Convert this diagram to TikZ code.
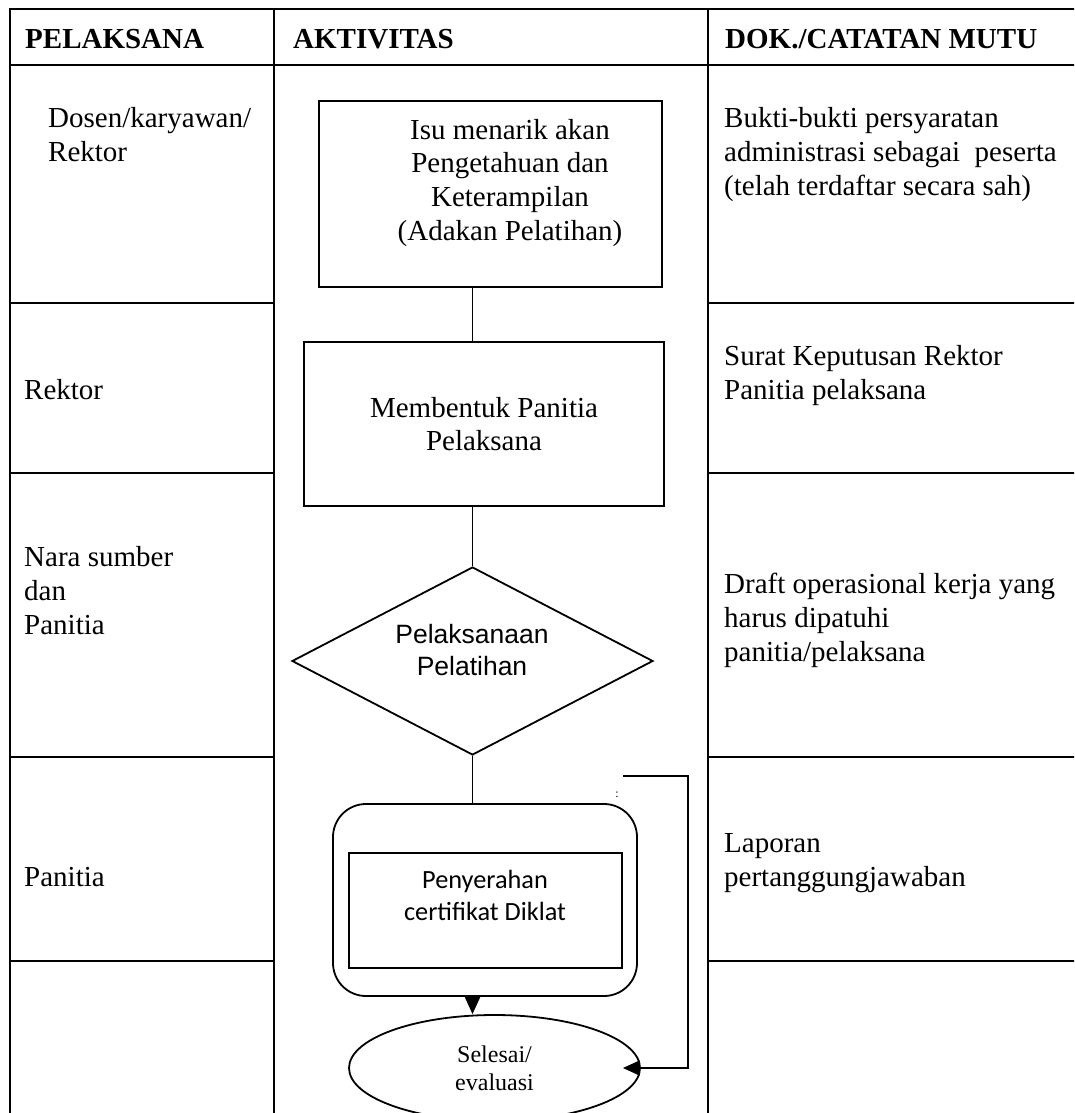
\documentclass[tikz,border=0pt]{standalone}
\usepackage{fontspec}
\setmainfont{Liberation Serif}
\newfontfamily\arialfont{Liberation Sans}
\newfontfamily\calibrifont{Carlito}
\usetikzlibrary{shapes.geometric,arrows.meta,positioning}

\tikzset{
  tabline/.style={line width=2.8pt, line cap=rect},
  link/.style={line width=1.8pt},
  linkarrow/.style={link, -{Triangle[length=17pt,width=15pt]}},
  boxnode/.style={draw, line width=1.8pt, rectangle, inner sep=0pt},
  headtext/.style={anchor=base west, inner sep=0pt, font=\fontsize{29}{33.6}\selectfont\bfseries},
  celltext/.style={anchor=base west, align=left, inner sep=0pt, font=\fontsize{29}{33.6}\selectfont},
  flowtext/.style={anchor=base, align=center, inner sep=0pt, font=\fontsize{29}{33.6}\selectfont},
  arialtext/.style={anchor=base, align=center, inner sep=0pt, font=\arialfont\fontsize{26.5}{32}\selectfont},
  calibtext/.style={anchor=base, align=center, inner sep=0pt, font=\calibrifont\fontsize{26.3}{32}\selectfont}
}

\begin{document}
\begin{tikzpicture}[x=1pt,y=-1pt]
  % page the same size as the table scan
  \useasboundingbox (0,0) rectangle (1074,1113);
  \clip (0,0) rectangle (1074,1113);

  % Draw the table grid
  \draw[tabline] (10,9) -- (1074,9);
  \draw[tabline] (10,65) -- (1074,65);
  \foreach \x in {10,274,708} {
    \draw[tabline] (\x,9) -- (\x,1113);
  }
  \foreach \y in {303,473,757,961} {
    \draw[tabline] (10,\y) -- (274,\y);
    \draw[tabline] (708,\y) -- (1074,\y);
  }

  % Column headings
  \node[headtext] (hpel) at (25,49) {PELAKSANA};
  \node[headtext] (hakt) at (293,49) {AKTIVITAS};
  \node[headtext] (hdok) at (725,49) {DOK./CATATAN MUTU};

  % Pelaksana column (base = last line of each cell)
  \node[celltext] (pel1) at (48,161) {Dosen/karyawan/\\Rektor};
  \node[celltext] (pel2) at (24,399) {Rektor};
  \node[celltext] (pel3) at (24,634) {Nara sumber\\dan\\Panitia};
  \node[celltext] (pel4) at (24,886) {Panitia};

  % Dokumen column
  \node[celltext] (dok1) at (724,195) {Bukti-bukti persyaratan\\administrasi sebagai\ \ peserta\\(telah terdaftar secara sah)};
  \node[celltext] (dok2) at (724,399) {Surat Keputusan Rektor\\Panitia pelaksana};
  \node[celltext] (dok3) at (724,661) {Draft operasional kerja yang\\harus dipatuhi\\panitia/pelaksana};
  \node[celltext] (dok4) at (724,886) {Laporan\\pertanggungjawaban};

  % Activity flow
  \node[boxnode, minimum width=343pt, minimum height=186pt] (isu) at (490.5,194) {};
  \node[flowtext] (isutxt) at (510,240) {Isu menarik akan\\Pengetahuan dan\\Keterampilan\\(Adakan Pelatihan)};

  \node[boxnode, minimum width=360pt, minimum height=164pt, flowtext, anchor=center] (memb) at (484,424) {Membentuk Panitia\\Pelaksana};

  \node[draw, line width=1.8pt, diamond, aspect=1.92, inner sep=0pt,
        minimum width=361pt, minimum height=188pt] (diam) at (472.5,661) {};
  \node[arialtext] (diamtxt) at (472,675) {Pelaksanaan\\Pelatihan};

  \node[draw, line width=1.8pt, rounded corners=33pt, minimum width=304pt, minimum height=192pt] (outer) at (485,900) {};
  \node[boxnode, minimum width=273pt, minimum height=115pt] (serah) at (485.5,910.5) {};
  \node[calibtext] (serahtxt) at (485,920) {Penyerahan\\certifikat Diklat};

  \node[draw, line width=1.8pt, ellipse, inner sep=0pt, minimum width=291pt, minimum height=106pt,
        align=center, font=\fontsize{24}{28}\selectfont] (sel) at (494.5,1068) {Selesai/\\evaluasi};

  % Draw connectors
  \draw[link] (isu.south -| diam.north) -- (memb.north -| diam.north);
  \draw[link] (memb.south -| diam.north) -- (diam.north);
  \draw[link] (diam.south) -- (outer.north -| diam.south);
  \draw[linkarrow] (outer.south -| diam.south) -- (sel.north -| diam.south);

  % feedback line to the end
  \coordinate (fb) at (623,776);
  \coordinate (fbx) at (688,776);
  \node[inner sep=0pt, font=\fontsize{12}{12}\selectfont] (dots) at (617,795) {:};
  \draw[linkarrow, shorten >=-18pt] (fb) -- (fbx) |- (sel.east);
\end{tikzpicture}
\end{document}
